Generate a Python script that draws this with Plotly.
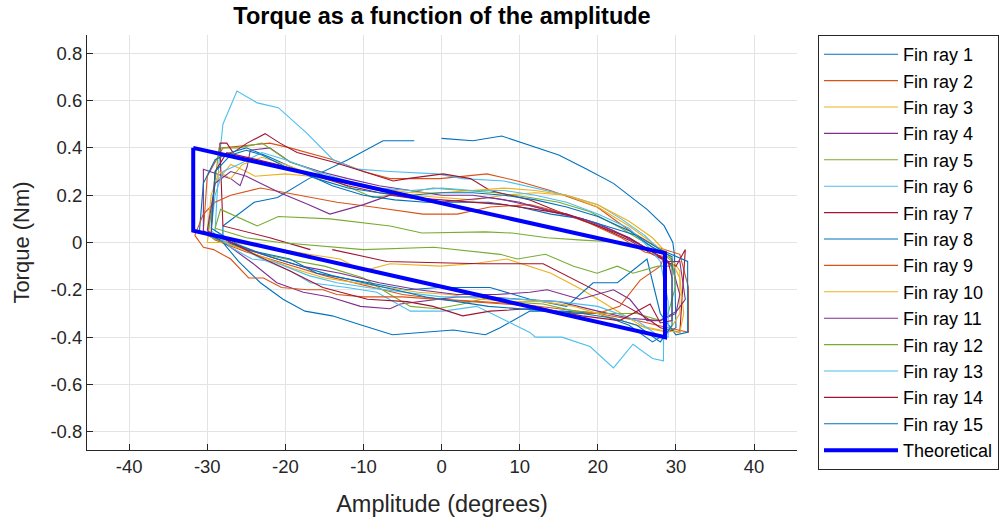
import plotly.graph_objects as go

# ---------------- data (degrees, Nm) ----------------
fin1_x = [-28, -24, -21, -17, -12, -7.5, -3.5, None, 0, 4, 7.7, 11.3, 15, 18.6, 22, 26.3, 28.5, 29.6, 29.8, 30, 27, 24, 20, 15.5, 11.3, 7.5, 5.6, 1.5, -2.4, -6.3, -10.2, -14, -17.5, -20.3, -23.2, -26, -28, -28]
fin1_y = [0.07, 0.17, 0.19, 0.27, 0.35, 0.43, 0.43, None, 0.44, 0.43, 0.45, 0.41, 0.37, 0.31, 0.25, 0.14, 0.07, 0.0, -0.05, -0.36, -0.42, -0.35, -0.30, -0.29, -0.29, -0.36, -0.39, -0.37, -0.38, -0.39, -0.35, -0.31, -0.29, -0.24, -0.17, -0.08, 0.0, 0.07]

fin2_x = [-30.5, -30, -28, -25, -22, -19.4, -13.9, -10, -6.6, -0.2, 5.8, 9.7, 13.9, 19.9, 24.1, 27.6, 30.5, 31.6, 31.6, 29, 25, 20, 15, 10, 5, 0, -5, -10, -15, -20, -25, -29, -30.5]
fin2_y = [0.05, 0.28, 0.40, 0.41, 0.42, 0.40, 0.35, 0.30, 0.27, 0.27, 0.29, 0.26, 0.22, 0.15, 0.05, -0.02, -0.05, -0.19, -0.38, -0.36, -0.33, -0.30, -0.28, -0.26, -0.25, -0.24, -0.22, -0.18, -0.14, -0.09, -0.04, 0.01, 0.05]

fin3_x = [-30, -29, -27, -25, -23.9, -20, -16.8, -12, -8, -4, 0, 4, 8, 12, 16, 20, 24, 27, 29, 30.5, 30.5, 29, 26, 22, 18, 14, 11.3, 8.4, 4, -0.2, -6.6, -10, -13, -17, -22, -27, -30]
fin3_y = [0.0, 0.25, 0.33, 0.30, 0.28, 0.29, 0.28, 0.25, 0.22, 0.20, 0.19, 0.18, 0.20, 0.21, 0.20, 0.15, 0.07, 0.0, -0.05, -0.12, -0.30, -0.38, -0.36, -0.28, -0.20, -0.13, -0.10, -0.07, -0.09, -0.10, -0.09, -0.12, -0.07, -0.05, -0.02, 0.0, 0.0]

fin4_x = [-30.5, -30.5, -27, -25.8, -24.9, -24.5, -22, -19.4, -15.6, -12, -8, -4, 0, 4, 8, 12, 16, 20, 24, 27, 29.5, 30.5, 30, 28, 24, 20, 15, 10, 6, 2, -0.2, -5.3, -6.6, -10.4, -14.3, -17.7, -21.1, -24.1, -27, -30.5]
fin4_y = [0.05, 0.31, 0.27, 0.24, 0.32, 0.39, 0.40, 0.34, 0.30, 0.27, 0.24, 0.22, 0.20, 0.20, 0.18, 0.15, 0.12, 0.08, 0.02, -0.04, -0.10, -0.22, -0.30, -0.33, -0.32, -0.29, -0.25, -0.24, -0.23, -0.23, -0.24, -0.26, -0.28, -0.27, -0.23, -0.21, -0.17, -0.09, -0.02, 0.05]

fin5_x = [-30, -29.5, -28.5, -26, -23, -19.4, -16.8, -13, -8.8, -4.4, -1.1, 2.7, 7, 11.3, 15, 19, 23, 26, 28, 29.5, 30, 29, 28, 25, 21, 17, 13, 8, 6.2, 2.7, -0.6, -4, -6.6, -10, -15, -20, -24, -28, -30]
fin5_y = [0.03, 0.12, 0.40, 0.40, 0.42, 0.34, 0.31, 0.25, 0.19, 0.21, 0.23, 0.22, 0.21, 0.19, 0.17, 0.13, 0.06, 0.0, -0.04, -0.08, -0.18, -0.30, -0.33, -0.30, -0.30, -0.29, -0.26, -0.25, -0.23, -0.26, -0.28, -0.27, -0.22, -0.15, -0.10, -0.07, -0.04, 0.0, 0.03]

fin6_x = [-29, -28.5, -28, -26.2, -23.6, -20.9, -17.2, -13.9, -10.8, -6.6, -0.6, 2.7, 8, 12, 16, 20, 23, 26, 28.5, 28.4, 27, 24.5, 22, 19, 15.4, 12, 11.3, 4.5, 0.2, -4, -8.3, -12.1, -16.8, -19.4, -23, -27, -29]
fin6_y = [0.05, 0.34, 0.50, 0.64, 0.59, 0.57, 0.46, 0.35, 0.31, 0.30, 0.29, 0.27, 0.26, 0.23, 0.20, 0.16, 0.10, 0.03, -0.05, -0.50, -0.49, -0.43, -0.53, -0.44, -0.40, -0.40, -0.38, -0.27, -0.29, -0.29, -0.21, -0.19, -0.17, -0.12, -0.07, 0.0, 0.05]

fin7_x = [-28.4, -27.5, -26.7, -24.9, -22.6, -20.7, -18.5, -13.9, -10, -6.2, -4.4, 0.2, 3.7, 6.2, 11.3, 15, 20, 24, 27, 30, 31.2, 30.5, 28, 26.3, 23.7, 19, 13, 5, -7, -14, None, -16.8, -22, -28, -28.4]
fin7_y = [0.42, 0.42, 0.38, 0.42, 0.46, 0.42, 0.38, 0.34, 0.30, 0.26, 0.27, 0.29, 0.27, 0.22, 0.18, 0.13, 0.07, 0.01, -0.05, -0.10, -0.03, -0.38, -0.36, -0.32, -0.27, -0.19, -0.09, -0.09, -0.08, -0.03, None, -0.03, 0.02, 0.07, 0.42]

fin8_x = [-31, -30.5, -29, -27, -25, -22, -18, -14, -10, -6, -2, 2, 6, 10, 14, 18, 22, 25, 28, 31.5, 31.5, 30, 28, 26.3, 22.5, 19.4, 16, 11.3, 6.2, -0.2, -4.4, -10.8, -16, -19.4, -25, -29, -31]
fin8_y = [0.05, 0.25, 0.35, 0.38, 0.40, 0.36, 0.30, 0.24, 0.20, 0.18, 0.17, 0.17, 0.17, 0.15, 0.12, 0.10, 0.06, 0.03, -0.03, -0.08, -0.38, -0.39, -0.30, -0.07, -0.17, -0.17, -0.27, -0.24, -0.19, -0.19, -0.20, -0.16, -0.13, -0.07, -0.03, 0.02, 0.05]

fin9_x = [-31.6, -30.5, -29, -27, -23.2, -16.8, -13.4, -8.8, -2.4, 2, 6.2, 11.3, 15, 19, 23, 26, 28.5, 28, 25.4, 22.8, 20, 16, 12, 8, 4, 0, -5, -10, -13.4, -15.2, -17.2, -20.5, -22.8, -24.7, -27, -29.2, -30.5, -31.6]
fin9_y = [0.03, 0.12, 0.17, 0.20, 0.23, 0.19, 0.17, 0.15, 0.12, 0.12, 0.15, 0.16, 0.13, 0.08, 0.02, -0.04, -0.06, -0.10, -0.16, -0.27, -0.30, -0.30, -0.27, -0.26, -0.25, -0.24, -0.23, -0.23, -0.22, -0.20, -0.20, -0.19, -0.15, -0.15, -0.07, -0.03, -0.02, 0.03]

fin10_x = [-30, -29.5, -28.5, -27, -25.5, -23, -20, -16, -12, -8, -4, 0, 4, 8, 12, 16, 20, 24, 27, 29, 30.5, 31, 30.5, 28, 25, 21, 17, 13, 9, 5, 1, -3, -7, -11, -15, -19, -23, -27, -30]
fin10_y = [0.05, 0.20, 0.30, 0.27, 0.33, 0.36, 0.33, 0.28, 0.25, 0.23, 0.21, 0.21, 0.22, 0.23, 0.22, 0.20, 0.16, 0.09, 0.02, -0.05, -0.15, -0.30, -0.38, -0.37, -0.35, -0.31, -0.27, -0.25, -0.25, -0.24, -0.22, -0.21, -0.19, -0.17, -0.15, -0.11, -0.06, -0.01, 0.05]

fin11_x = [-30, -29, -27, -25, -20.7, -17, -14.3, -10, -6.6, -0.2, 6.2, 10, 14, 18, 22, 26, 29, 30.5, 31.2, 30.1, 28, 26.3, 24.1, 22, 17.7, 13.5, 11.3, 7, 2, -3, -8, -13, -18, -23, -27, -30]
fin11_y = [0.05, 0.25, 0.30, 0.28, 0.21, 0.16, 0.12, 0.16, 0.20, 0.17, 0.19, 0.17, 0.13, 0.10, 0.05, -0.02, -0.08, -0.08, -0.24, -0.29, -0.33, -0.33, -0.24, -0.20, -0.24, -0.20, -0.21, -0.22, -0.22, -0.20, -0.17, -0.13, -0.10, -0.05, 0.0, 0.05]

fin12_x = [-29, -28.3, -23.6, -20.9, -14.3, -6.6, -2.5, 5.6, 9, 13.5, 18, 23.7, 28, 29.5, 29.5, 27.7, 24.5, 22.5, 19.9, 16.9, 13.3, 9.7, 7.5, -1, -10, -20.7, -25, -29]
fin12_y = [0.06, 0.14, 0.07, 0.11, 0.10, 0.07, 0.04, 0.045, 0.04, 0.02, 0.01, 0.0, -0.04, -0.07, -0.10, -0.10, -0.13, -0.10, -0.13, -0.10, -0.05, -0.07, -0.05, -0.02, -0.03, 0.0, 0.02, 0.06]

fin13_x = [-29.5, -29, -28, -26, -23, -20, -16, -12, -8, -4, 0, 4, 8, 12, 16, 20, 24, 26.5, 28, 29, 29, 28, 25, 20, 15, 10, 5, 0, -5, -9.5, -13.4, -17, -21.6, -24.3, -27, -29.5]
fin13_y = [0.05, 0.20, 0.30, 0.33, 0.38, 0.35, 0.30, 0.26, 0.23, 0.22, 0.23, 0.22, 0.22, 0.20, 0.17, 0.12, 0.06, -0.02, -0.08, -0.25, -0.40, -0.40, -0.33, -0.27, -0.25, -0.24, -0.23, -0.23, -0.21, -0.19, -0.17, -0.14, -0.08, -0.07, -0.02, 0.05]

fin14_x = [-29.5, -29, -27.5, -25, -21, -17, -12, -8, -4, 0, 4, 8, 12, 16, 20, 24, 27, 29, 29.5, 29.5, 28, 26.7, 24.5, 22.8, 18, 14.5, 11.3, 6.2, 2.7, -1.1, -4.4, -9.5, -15.2, -19.4, -24, -28, -29.5]
fin14_y = [0.04, 0.30, 0.38, 0.36, 0.33, 0.29, 0.24, 0.21, 0.19, 0.18, 0.17, 0.16, 0.14, 0.12, 0.07, 0.02, -0.04, -0.08, -0.15, -0.33, -0.34, -0.26, -0.30, -0.33, -0.31, -0.29, -0.28, -0.29, -0.31, -0.27, -0.25, -0.24, -0.19, -0.12, -0.05, 0.02, 0.04]

fin15_x = [-29.5, -29, -27, -25, -23, -20, -16, -12, -8, -4, 0, 4, 8, 12, 16, 20, 24, 27, 29.5, 29.5, 28, 25, 22, 18, 14, 10, 6, 2, -2, -6, -10, -14, -18, -22, -26, -29.5]
fin15_y = [0.06, 0.30, 0.37, 0.39, 0.37, 0.32, 0.27, 0.23, 0.21, 0.20, 0.21, 0.21, 0.20, 0.18, 0.15, 0.11, 0.05, -0.02, -0.06, -0.35, -0.42, -0.35, -0.32, -0.30, -0.29, -0.28, -0.27, -0.25, -0.23, -0.20, -0.17, -0.14, -0.10, -0.06, -0.01, 0.06]

theory_x = [-31.8, 28.6, 28.6, -31.8, -31.8]
theory_y = [0.40, -0.045, -0.40, 0.05, 0.40]

x_ticks = [-40, -30, -20, -10, 0, 10, 20, 30, 40]
x_tick_labels = ["-40", "-30", "-20", "-10", "0", "10", "20", "30", "40"]
y_ticks = [-0.8, -0.6, -0.4, -0.2, 0, 0.2, 0.4, 0.6, 0.8]
y_tick_labels = ["-0.8", "-0.6", "-0.4", "-0.2", "0", "0.2", "0.4", "0.6", "0.8"]

series_x = [fin1_x, fin2_x, fin3_x, fin4_x, fin5_x, fin6_x, fin7_x, fin8_x,
            fin9_x, fin10_x, fin11_x, fin12_x, fin13_x, fin14_x, fin15_x]
series_y = [fin1_y, fin2_y, fin3_y, fin4_y, fin5_y, fin6_y, fin7_y, fin8_y,
            fin9_y, fin10_y, fin11_y, fin12_y, fin13_y, fin14_y, fin15_y]

colors = ["#0072BD", "#D95319", "#EDB120", "#7E2F8E", "#77AC30", "#4DBEEE", "#A2142F"]
FONT = "Liberation Sans, Arial, Helvetica, sans-serif"
INK = "#262626"

fig = go.Figure()
for i, (xs, ys) in enumerate(zip(series_x, series_y)):
    fig.add_trace(go.Scatter(
        x=xs, y=ys, mode="lines", name=f"Fin ray {i + 1}",
        line=dict(color=colors[i % 7], width=1.1),
    ))
fig.add_trace(go.Scatter(
    x=theory_x, y=theory_y, mode="lines", name="Theoretical",
    line=dict(color="#0000FF", width=4),
))

axis_common = dict(
    showline=True, linecolor=INK, linewidth=1, mirror=False,
    ticks="inside", ticklen=6, tickcolor=INK, tickwidth=1,
    showgrid=True, gridcolor="#e3e3e3", gridwidth=1, zeroline=False,
    tickfont=dict(family=FONT, size=18.5, color=INK),
    automargin=False,
)

fig.update_layout(
    width=1001, height=520,
    margin=dict(l=87, r=204, t=35, b=70, autoexpand=False),
    paper_bgcolor="white", plot_bgcolor="white",
    font=dict(family=FONT, color=INK),
    title=dict(text="<b>Torque as a function of the amplitude</b>",
               x=0.5, xref="paper", xanchor="center",
               y=1 - 16 / 520, yref="container", yanchor="middle",
               font=dict(family=FONT, size=23.5, color="black")),
    xaxis=dict(range=[-45.4, 45.5], tickvals=x_ticks, ticktext=x_tick_labels,
               title=dict(text="Amplitude (degrees)", standoff=19,
                          font=dict(family=FONT, size=23.5, color=INK)),
               **axis_common),
    yaxis=dict(range=[-0.877, 0.877], tickvals=y_ticks, ticktext=y_tick_labels,
               title=dict(text="Torque (Nm)", standoff=14,
                          font=dict(family=FONT, size=22, color=INK)),
               **axis_common),
    legend=dict(x=731 / 710, xanchor="left", y=1.0, yanchor="top",
                bgcolor="white", bordercolor=INK, borderwidth=1,
                font=dict(family=FONT, size=18, color="black"),
                tracegroupgap=0, itemwidth=74, maxheight=500),
    showlegend=True,
)

fig.write_html("out.html",
               config={"displayModeBar": False},
               post_script="document.body.style.margin='0';")
